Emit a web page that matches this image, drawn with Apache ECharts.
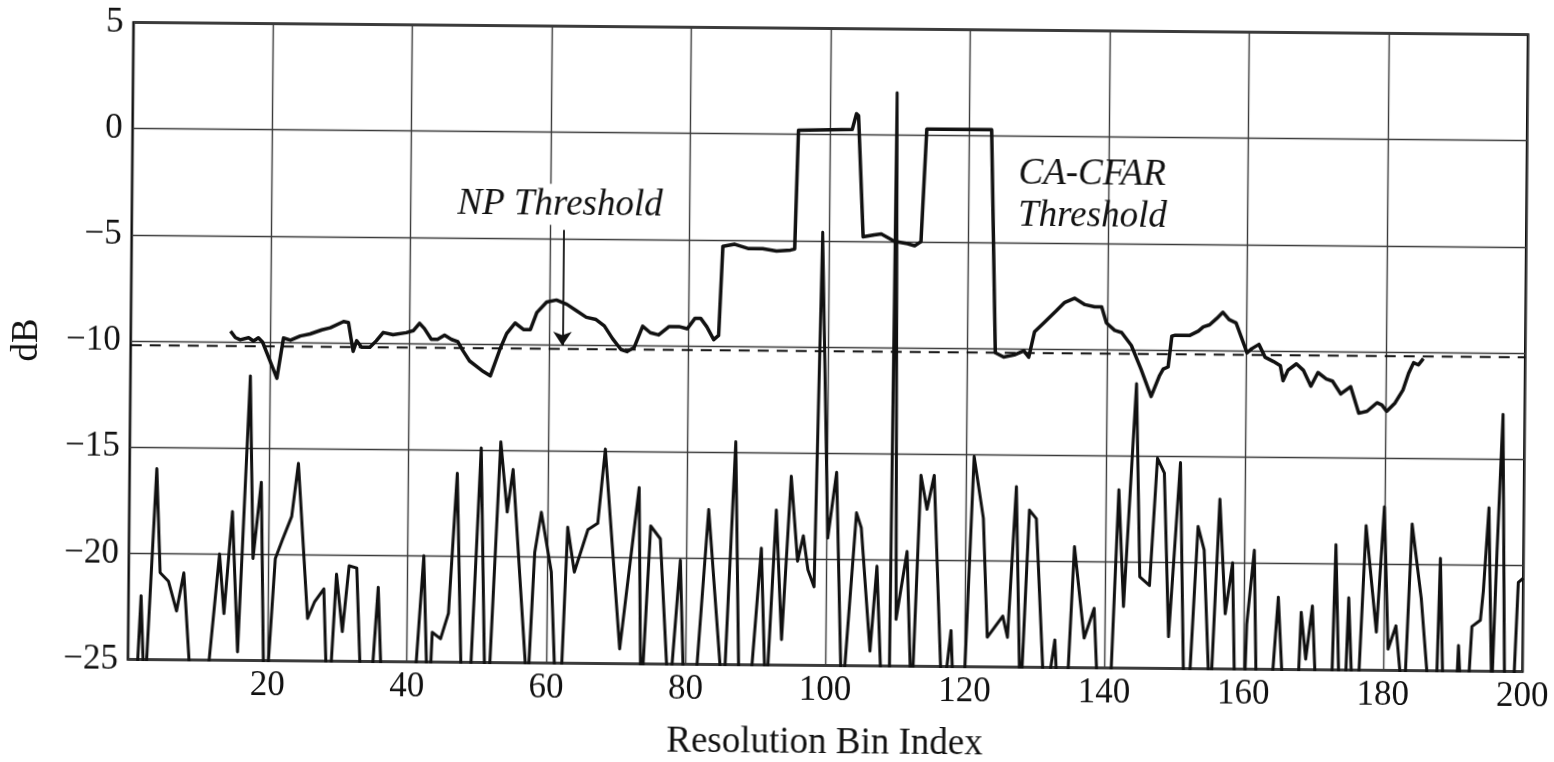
<!DOCTYPE html>
<html>
<head>
<meta charset="utf-8">
<script src="https://cdn.jsdelivr.net/npm/echarts/dist/echarts.min.js"></script>
<style>
  html, body { margin: 0; padding: 0; background: #ffffff; }
  #chart { width: 1554px; height: 762px; transform: rotate(0.5deg); transform-origin: 828px 347px; }
</style>
</head>
<body>
<div id="chart"></div>
<script>
// ---------- data ----------
const xTickValues = [0, 20, 40, 60, 80, 100, 120, 140, 160, 180, 200];
const yTickValues = [-25, -20, -15, -10, -5, 0, 5];

// received signal (noise + targets), dB, values below -25 are clipped by the axis
const noiseBin = [1.0, 1.8, 2.4, 3.9, 4.5, 5.7, 6.9, 7.9, 10.0, 13.0, 13.7, 14.8, 15.7, 17.2, 17.8, 18.9, 19.6, 21.0, 22.0, 23.3,
  24.2, 25.7, 26.7, 28.0, 28.7, 29.8, 30.7, 31.6, 32.7, 34.0, 35.8, 36.6, 40.0, 42.3, 43.1, 43.6, 44.8, 45.9, 47.0, 47.9,
  48.6, 50.4, 51.4, 53.2, 54.2, 55.0, 57.3, 58.2, 59.1, 60.6, 61.4, 61.9, 62.9, 63.9, 65.8, 67.2, 68.2, 70.5, 73.1, 73.6,
  74.8, 76.2, 77.6, 79.1, 79.8, 80.6, 83.1, 85.4, 86.9, 87.7, 88.4, 90.7, 91.5, 92.8, 93.7, 94.9, 95.9, 96.7, 97.4, 98.3,
  99.1, 100.2, 101.4, 102.4, 104.3, 105.0, 106.4, 107.3, 108.3, 109.2, 109.6, 110.1, 111.6, 112.4, 113.5, 114.4, 115.4, 116.8, 118.0, 118.6,
  119.5, 121.1, 122.5, 123.2, 125.4, 126.1, 127.2, 128.0, 129.1, 130.1, 131.5, 132.9, 133.6, 134.2, 135.6, 137.1, 138.5, 139.2, 140.5, 141.9,
  142.7, 144.3, 145.0, 146.4, 147.4, 148.4, 149.2, 150.7, 151.5, 151.9, 153.3, 154.2, 155.2, 156.4, 157.3, 158.3, 158.8, 159.8, 160.4, 161.4,
  161.9, 163.4, 164.9, 165.8, 167.6, 168.2, 168.9, 169.8, 170.5, 172.5, 173.1, 173.8, 174.5, 175.0, 175.7, 176.2, 177.4, 179.0, 180.0, 180.7,
  181.8, 183.0, 184.0, 185.4, 186.8, 187.6, 188.1, 188.7, 190.3, 190.8, 191.3, 192.2, 192.7, 193.9, 194.3, 195.0, 195.6, 196.2, 196.9, 197.5,
  198.6, 199.3, 200.0];
const noiseDb = [-28, -22.0, -27, -16.0, -20.9, -21.3, -22.7, -20.9, -31, -20.0, -22.8, -18.0, -24.6, -11.6, -20.2, -16.6, -28, -20.2, -19.3, -18.2,
  -15.7, -23.0, -22.2, -21.6, -28, -20.9, -23.6, -20.5, -20.6, -31, -21.5, -28, -32, -20.0, -28, -23.6, -23.9, -22.7, -16.1, -27,
  -30, -14.9, -29, -14.6, -17.9, -15.9, -26.5, -19.8, -17.9, -20.7, -27, -28, -18.6, -20.7, -18.7, -18.4, -14.9, -24.3, -16.7, -27,
  -18.5, -19.1, -27, -20.1, -27, -30, -17.7, -27, -14.5, -27, -30, -19.5, -27, -17.7, -23.8, -16.1, -20.1, -18.9, -20.5, -21.3,
  -4.6, -19.0, -15.9, -27, -17.8, -18.5, -24.3, -20.3, -28, -26, 2.0, -22.8, -19.6, -27, -16.0, -17.6, -16.0, -27, -23.3, -28,
  -30, -15.1, -18.0, -23.6, -22.6, -23.6, -16.5, -27, -17.6, -18.0, -27, -23.7, -28, -30, -19.3, -23.6, -22.2, -27, -30, -16.6,
  -22.1, -11.6, -20.7, -21.1, -15.1, -15.8, -23.5, -15.3, -27, -28, -18.3, -19.4, -27, -17.0, -22.4, -20.0, -27, -30, -22.9, -19.4,
  -27, -29, -21.6, -27, -28, -22.3, -24.5, -22.0, -27, -28, -19.1, -27, -27, -21.6, -27, -28, -18.2, -23.2, -17.3, -24.0,
  -22.9, -27, -18.1, -21.6, -27, -27, -19.7, -27, -28, -23.8, -27, -26, -22.9, -22.6, -21.2, -17.3, -26, -19.4, -12.9, -27,
  -27, -20.8, -20.6];

// CA-CFAR threshold, dB
const cfarBin = [14.3, 15.0, 15.7, 16.9, 17.6, 18.3, 18.9, 21.0, 21.9, 22.9, 24.3, 25.7, 27.4, 28.6, 30.5, 31.2, 31.9, 32.4, 33.1, 34.3,
  35.2, 36.2, 37.6, 39.5, 40.5, 41.4, 42.1, 43.1, 44.0, 45.0, 46.0, 46.9, 47.6, 48.6, 49.8, 50.6, 51.6, 53.0, 53.9, 55.1,
  56.3, 57.3, 58.2, 59.6, 61.0, 62.5, 63.9, 65.3, 66.7, 67.9, 69.1, 70.3, 71.2, 72.2, 73.4, 74.5, 75.7, 77.2, 78.6, 79.8,
  80.9, 81.7, 82.6, 83.6, 84.3, 84.8, 86.5, 88.5, 90.5, 92.5, 94.5, 95.1, 95.5, 103.2, 103.8, 104.1, 104.9, 106.5, 107.5, 109.4,
  111.3, 112.3, 113.2, 113.9, 123.2, 124.0, 125.2, 126.7, 128.1, 128.8, 129.6, 131.0, 132.7, 133.9, 135.3, 136.8, 138.2, 139.2, 139.9, 141.1,
  142.1, 143.5, 144.9, 146.4, 147.6, 148.1, 148.8, 149.3, 149.8, 151.9, 153.1, 153.8, 154.7, 155.7, 156.6, 157.5, 158.5, 160.1, 160.8, 161.8,
  162.7, 163.9, 164.9, 165.3, 166.0, 167.2, 168.2, 169.3, 170.3, 171.5, 172.4, 173.6, 175.0, 176.2, 177.4, 178.8, 179.5, 180.2, 181.4, 182.5,
  183.3, 184.0, 184.7, 185.4];
const cfarDb = [-9.5, -9.8, -9.9, -9.8, -9.95, -9.8, -10.0, -11.7, -9.8, -9.9, -9.7, -9.6, -9.4, -9.3, -9.0, -9.05, -10.4, -9.9, -10.2, -10.2,
  -9.9, -9.5, -9.6, -9.5, -9.4, -9.05, -9.3, -9.8, -9.8, -9.6, -9.8, -9.9, -10.3, -10.8, -11.1, -11.3, -11.5, -10.2, -9.5, -9.0,
  -9.3, -9.3, -8.5, -8.0, -7.9, -8.1, -8.4, -8.7, -8.8, -9.1, -9.7, -10.2, -10.3, -10.1, -9.1, -9.4, -9.5, -9.1, -9.1, -9.2,
  -8.7, -8.7, -9.1, -9.7, -9.5, -5.3, -5.2, -5.4, -5.4, -5.5, -5.45, -5.4, 0.2, 0.25, 1.0, 0.9, -4.8, -4.7, -4.65, -5.0,
  -5.1, -5.2, -5.0, 0.3, 0.3, -10.2, -10.4, -10.3, -10.1, -10.4, -9.2, -8.75, -8.2, -7.8, -7.6, -7.9, -8.0, -8.0, -8.75, -9.1,
  -9.2, -9.8, -10.9, -12.2, -11.2, -10.9, -10.8, -9.35, -9.3, -9.3, -9.1, -8.9, -8.8, -8.5, -8.2, -8.55, -8.7, -10.1, -9.9, -9.7,
  -10.3, -10.5, -10.7, -11.4, -10.9, -10.6, -10.9, -11.65, -11.0, -11.3, -11.4, -12.0, -11.65, -12.9, -12.8, -12.4, -12.5, -12.8, -12.4, -11.8,
  -11.0, -10.5, -10.6, -10.3];

// Neyman-Pearson (fixed) threshold, dB
const npBin = [0, 200];
const npDb = [-10.2, -10.2];

// annotation texts and their anchor positions (data coordinates)
const annotationText = ['NP Threshold', 'CA-CFAR\nThreshold'];
const annotationBin = [61.4, 127.1];
const annotationDb = [-3.4, -2.76];
const arrowBin = [61.9, 61.9];
const arrowDb = [-4.6, -10.05];

// ---------- chart ----------
const FONT = '"Liberation Serif", "Times New Roman", "DejaVu Serif", serif';
const INK = '#111111';
const zip = (a, b) => a.map((v, i) => [v, b[i]]);
const minus = s => String(s).replace('-', '\u2212');

const chart = echarts.init(document.getElementById('chart'), null, { renderer: 'canvas' });
chart.setOption({
  animation: false,
  backgroundColor: '#ffffff',
  grid: {
    left: 130.75, top: 28.5, width: 1394.5, height: 637,
    show: true, borderColor: '#000000', borderWidth: 2.5, backgroundColor: 'transparent',
    containLabel: false, outerBoundsMode: 'none'
  },
  xAxis: {
    type: 'value', min: xTickValues[0], max: xTickValues[xTickValues.length - 1], interval: 20,
    name: 'Resolution Bin Index', nameLocation: 'middle', nameGap: 59,
    nameTextStyle: { fontFamily: FONT, fontSize: 37, color: INK },
    axisLine: { show: false }, axisTick: { show: false },
    axisLabel: { fontFamily: FONT, fontSize: 35, color: INK, margin: 8,
      formatter: v => (v === 0 ? '' : String(v)) },
    splitLine: { show: true, lineStyle: { color: '#3a3a3a', width: 1.4 } }
  },
  yAxis: {
    type: 'value', min: yTickValues[0], max: yTickValues[yTickValues.length - 1], interval: 5,
    name: 'dB', nameLocation: 'middle', nameGap: 85, nameRotate: 90,
    nameTextStyle: { fontFamily: FONT, fontSize: 37, color: INK },
    axisLine: { show: false }, axisTick: { show: false },
    axisLabel: { fontFamily: FONT, fontSize: 35, color: INK, margin: 10, formatter: v => minus(v) },
    splitLine: { show: true, lineStyle: { color: '#3a3a3a', width: 1.4 } }
  },
  series: [
    {
      name: 'Signal', type: 'line', data: zip(noiseBin, noiseDb), showSymbol: false, symbol: 'none',
      clip: true, silent: true, z: 3,
      lineStyle: { color: INK, width: 3, join: 'round' }
    },
    {
      name: 'CA-CFAR Threshold', type: 'line', data: zip(cfarBin, cfarDb), showSymbol: false, symbol: 'none',
      clip: true, silent: true, z: 4,
      lineStyle: { color: INK, width: 3.5, join: 'round' }
    },
    {
      name: 'NP Threshold', type: 'line', data: zip(npBin, npDb), showSymbol: false, symbol: 'none',
      clip: true, silent: true, z: 2,
      lineStyle: { color: INK, width: 2.2, type: [11, 8] },
      markLine: {
        silent: true, symbol: ['none', 'arrow'], symbolSize: 14,
        label: { show: false },
        lineStyle: { type: 'solid', color: INK, width: 1.8 },
        data: [[{ coord: [arrowBin[0], arrowDb[0]] }, { coord: [arrowBin[1], arrowDb[1]] }]]
      }
    },
    {
      name: 'annotations', type: 'scatter', silent: true, symbol: 'circle', symbolSize: 1, z: 6,
      itemStyle: { color: 'rgba(0,0,0,0)', opacity: 1 },
      labelLayout: { hideOverlap: false },
      data: annotationText.map((t, i) => ({
        value: [annotationBin[i], annotationDb[i]],
        name: t,
        label: i === 0
          ? { show: true, position: 'inside', formatter: '{b}', align: 'center', verticalAlign: 'middle',
              fontFamily: FONT, fontStyle: 'italic', fontSize: 37, color: INK, opacity: 1,
              backgroundColor: '#ffffff', padding: [2, 4] }
          : { show: true, position: 'inside', formatter: '{b}', align: 'left', verticalAlign: 'middle',
              fontFamily: FONT, fontStyle: 'italic', fontSize: 37, color: INK, opacity: 1, lineHeight: 42 }
      }))
    }
  ]
});
</script>
</body>
</html>
